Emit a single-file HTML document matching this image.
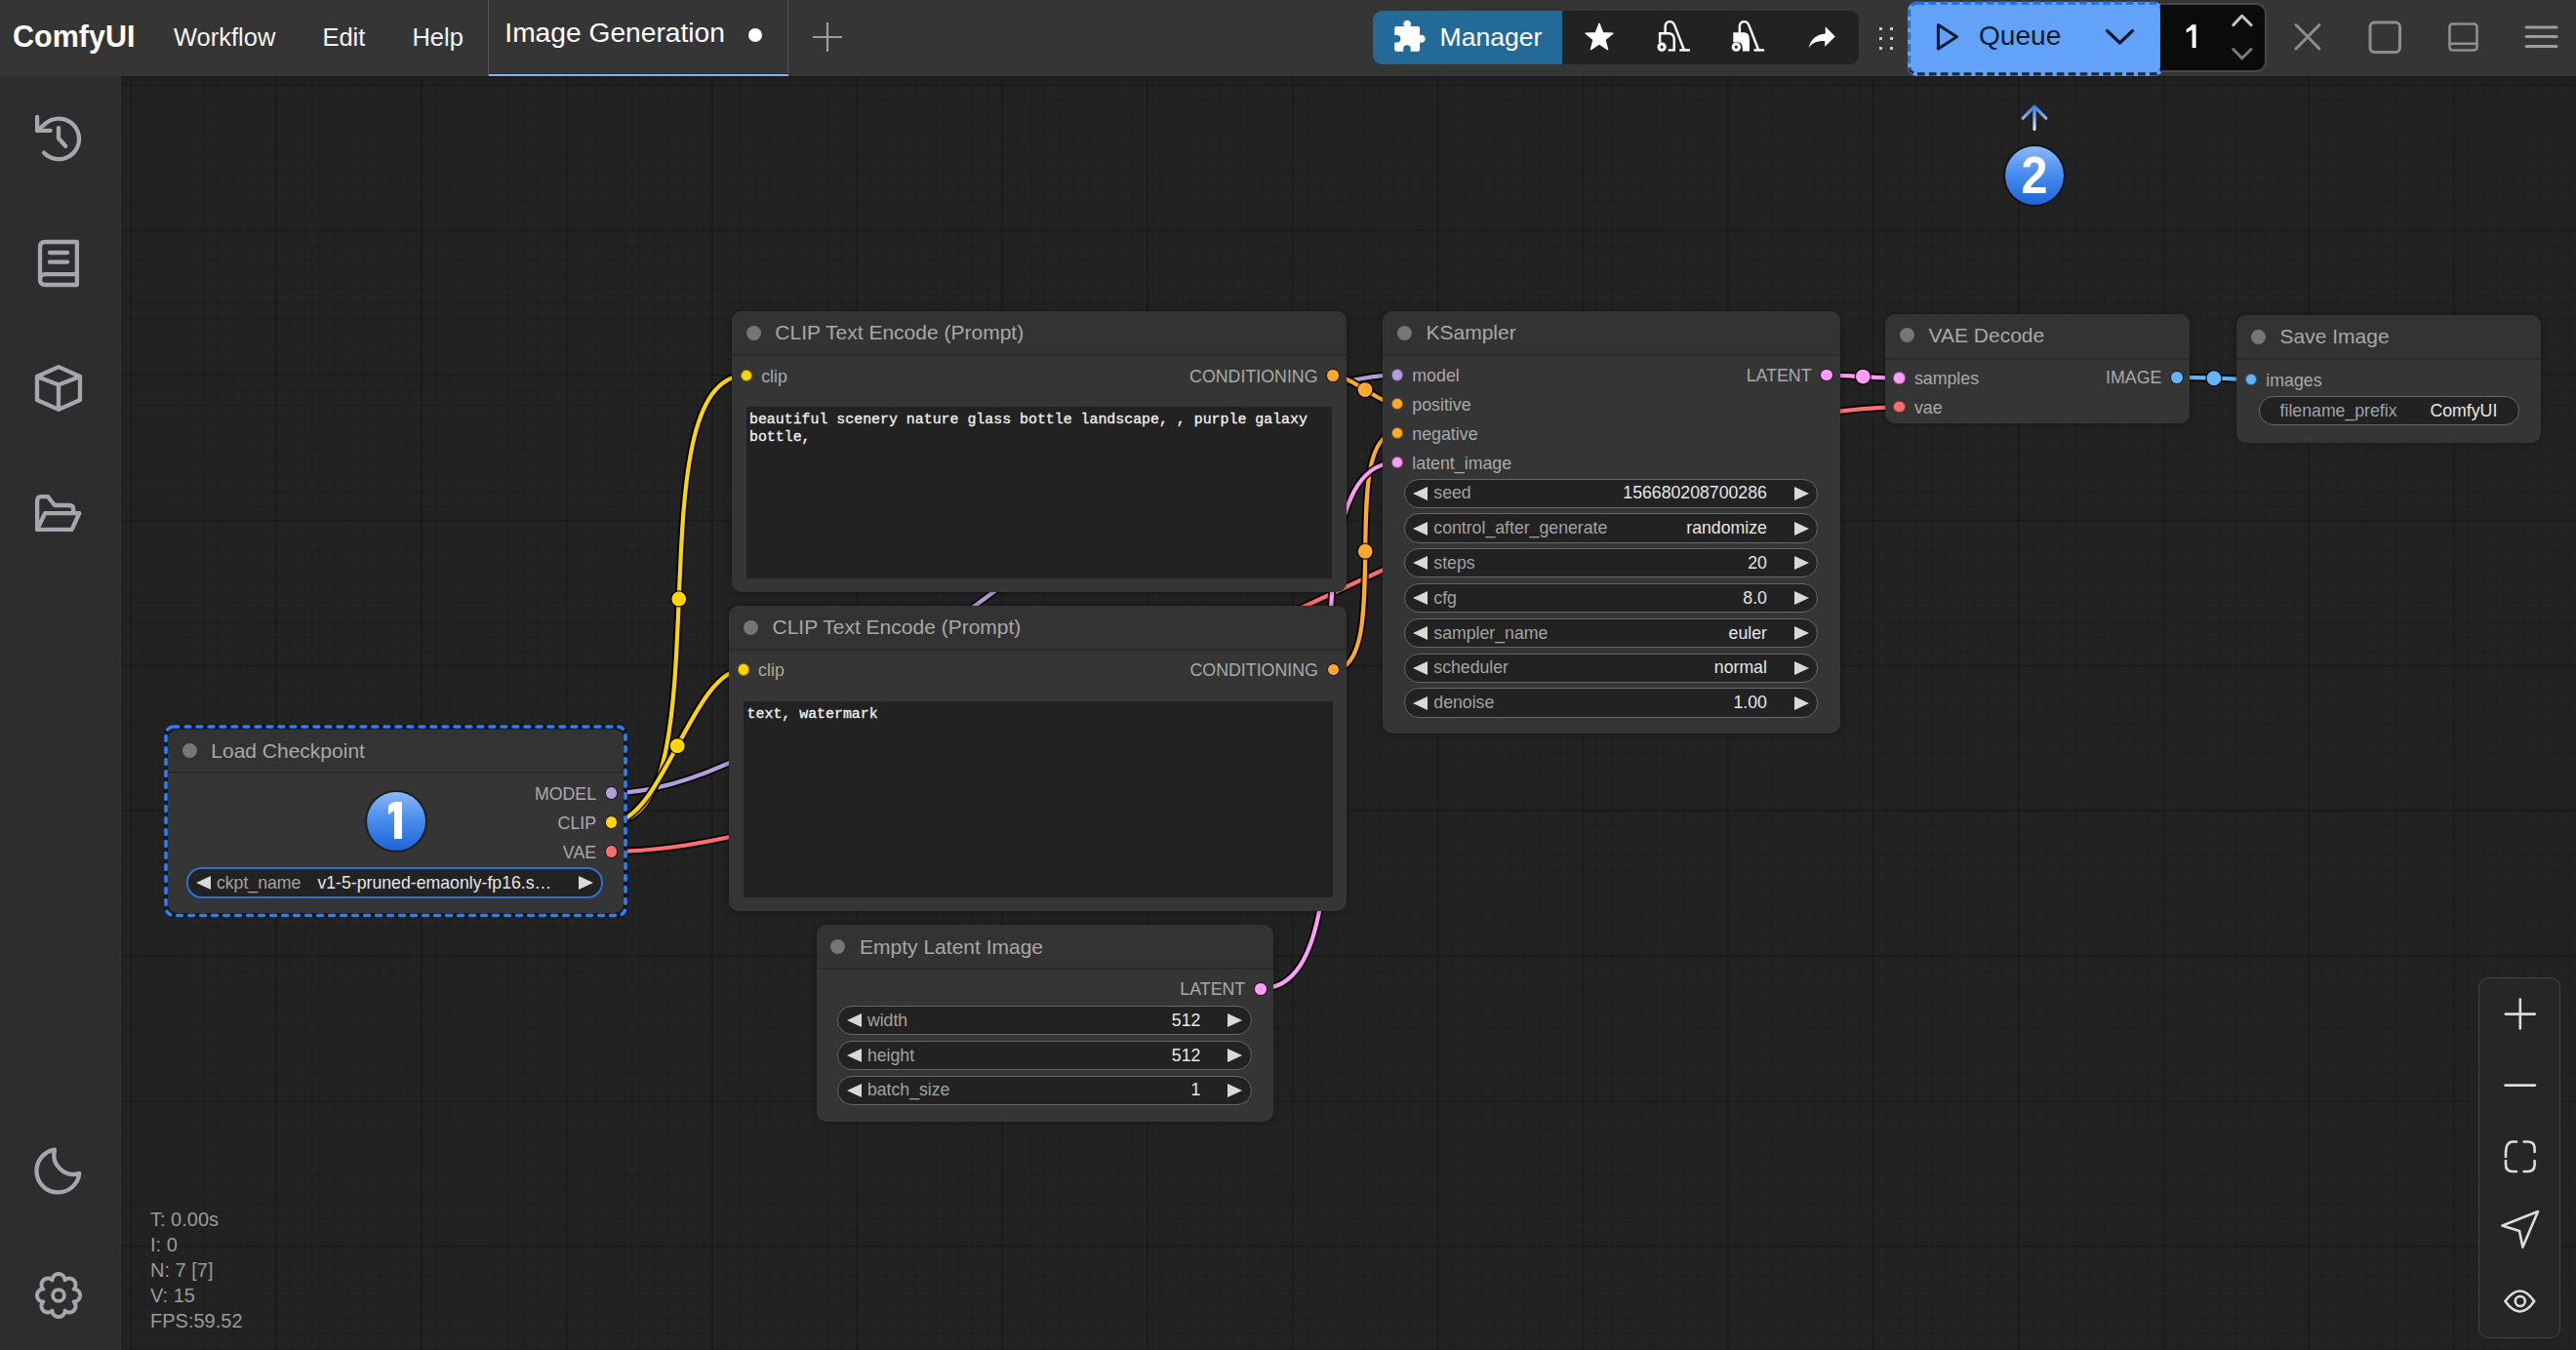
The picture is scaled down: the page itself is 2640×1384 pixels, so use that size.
<!DOCTYPE html><html><head><meta charset="utf-8"><style>
*{margin:0;padding:0;box-sizing:border-box}
html,body{width:2640px;height:1384px;overflow:hidden;background:#222;font-family:"Liberation Sans",sans-serif}
.t{position:absolute;white-space:nowrap;line-height:1}
.a{position:absolute}
#canvas{position:absolute;left:0;top:0;width:2640px;height:1384px;background-color:#222;
background-image:
linear-gradient(90deg,rgba(0,0,0,.16) 2px,transparent 2px),
linear-gradient(0deg,rgba(0,0,0,.16) 2px,transparent 2px),
linear-gradient(90deg,rgba(0,0,0,.09) 1px,transparent 1px),
linear-gradient(0deg,rgba(0,0,0,.09) 1px,transparent 1px);
background-size:148.8px 148.8px,148.8px 148.8px,14.88px 14.88px,14.88px 14.88px;
background-position:133.4px 88.1px,133.4px 88.1px,133.9px 88.6px,133.9px 88.6px}
.node{position:absolute;background:#353535;border-radius:10px;box-shadow:0 0 6px rgba(0,0,0,.35)}
.ntitle{position:absolute;left:0;top:0;right:0;background:#333;border-radius:10px 10px 0 0;border-bottom:2px solid #2b2b2b}
.ndot{position:absolute;width:15px;height:15px;border-radius:50%;background:#767676}
.slot{position:absolute;width:12px;height:12px;border-radius:50%}
.wid{position:absolute;background:#222;border:1.6px solid #676767;border-radius:16px}
.ta{position:absolute;background:#222}
.mono{-webkit-text-stroke:0.25px #f2f2f2}

</style></head><body>
<div id="canvas"></div>
<svg class="a" style="left:0;top:0" width="2640" height="1384" viewBox="0 0 2640 1384">
<path d="M626.60,813.00 C854.66,813.00 1203.94,384.60 1432.00,384.60" fill="none" stroke="rgba(0,0,0,.85)" stroke-width="8"/>
<path d="M626.60,813.00 C854.66,813.00 1203.94,384.60 1432.00,384.60" fill="none" stroke="#B39DDB" stroke-width="4.2"/>
<path d="M626.60,843.00 C746.25,843.00 645.25,384.80 764.90,384.80" fill="none" stroke="rgba(0,0,0,.85)" stroke-width="8"/>
<path d="M626.60,843.00 C746.25,843.00 645.25,384.80 764.90,384.80" fill="none" stroke="#FFD500" stroke-width="4.2"/>
<path d="M626.60,843.00 C678.32,843.00 710.08,686.40 761.80,686.40" fill="none" stroke="rgba(0,0,0,.85)" stroke-width="8"/>
<path d="M626.60,843.00 C678.32,843.00 710.08,686.40 761.80,686.40" fill="none" stroke="#FFD500" stroke-width="4.2"/>
<path d="M626.60,873.00 C975.71,873.00 1597.49,417.30 1946.60,417.30" fill="none" stroke="rgba(0,0,0,.85)" stroke-width="8"/>
<path d="M626.60,873.00 C975.71,873.00 1597.49,417.30 1946.60,417.30" fill="none" stroke="#FF6E6E" stroke-width="4.2"/>
<path d="M1366.00,384.80 C1384.07,384.80 1413.93,414.30 1432.00,414.30" fill="none" stroke="rgba(0,0,0,.85)" stroke-width="8"/>
<path d="M1366.00,384.80 C1384.07,384.80 1413.93,414.30 1432.00,414.30" fill="none" stroke="#FFA931" stroke-width="4.2"/>
<path d="M1366.40,686.40 C1429.18,686.40 1369.22,444.00 1432.00,444.00" fill="none" stroke="rgba(0,0,0,.85)" stroke-width="8"/>
<path d="M1366.40,686.40 C1429.18,686.40 1369.22,444.00 1432.00,444.00" fill="none" stroke="#FFA931" stroke-width="4.2"/>
<path d="M1291.70,1013.70 C1431.11,1013.70 1292.59,474.00 1432.00,474.00" fill="none" stroke="rgba(0,0,0,.85)" stroke-width="8"/>
<path d="M1291.70,1013.70 C1431.11,1013.70 1292.59,474.00 1432.00,474.00" fill="none" stroke="#FF9CF9" stroke-width="4.2"/>
<path d="M1872.00,384.60 C1890.67,384.60 1927.93,387.60 1946.60,387.60" fill="none" stroke="rgba(0,0,0,.85)" stroke-width="8"/>
<path d="M1872.00,384.60 C1890.67,384.60 1927.93,387.60 1946.60,387.60" fill="none" stroke="#FF9CF9" stroke-width="4.2"/>
<path d="M2230.90,386.70 C2249.93,386.70 2287.97,388.80 2307.00,388.80" fill="none" stroke="rgba(0,0,0,.85)" stroke-width="8"/>
<path d="M2230.90,386.70 C2249.93,386.70 2287.97,388.80 2307.00,388.80" fill="none" stroke="#64B5F6" stroke-width="4.2"/>
<circle cx="1029.30" cy="598.80" r="8.6" fill="rgba(0,0,0,.85)"/>
<circle cx="1029.30" cy="598.80" r="7.4" fill="#B39DDB"/>
<circle cx="695.75" cy="613.90" r="8.6" fill="rgba(0,0,0,.85)"/>
<circle cx="695.75" cy="613.90" r="7.4" fill="#FFD500"/>
<circle cx="694.20" cy="764.70" r="8.6" fill="rgba(0,0,0,.85)"/>
<circle cx="694.20" cy="764.70" r="7.4" fill="#FFD500"/>
<circle cx="1286.60" cy="645.15" r="8.6" fill="rgba(0,0,0,.85)"/>
<circle cx="1286.60" cy="645.15" r="7.4" fill="#FF6E6E"/>
<circle cx="1399.00" cy="399.55" r="8.6" fill="rgba(0,0,0,.85)"/>
<circle cx="1399.00" cy="399.55" r="7.4" fill="#FFA931"/>
<circle cx="1399.20" cy="565.20" r="8.6" fill="rgba(0,0,0,.85)"/>
<circle cx="1399.20" cy="565.20" r="7.4" fill="#FFA931"/>
<circle cx="1361.85" cy="743.85" r="8.6" fill="rgba(0,0,0,.85)"/>
<circle cx="1361.85" cy="743.85" r="7.4" fill="#FF9CF9"/>
<circle cx="1909.30" cy="386.10" r="8.6" fill="rgba(0,0,0,.85)"/>
<circle cx="1909.30" cy="386.10" r="7.4" fill="#FF9CF9"/>
<circle cx="2268.95" cy="387.75" r="8.6" fill="rgba(0,0,0,.85)"/>
<circle cx="2268.95" cy="387.75" r="7.4" fill="#64B5F6"/>
</svg>
<div class="node" style="left:172px;top:747.5px;width:467.00px;height:188.50px"><div class="ntitle" style="height:45.8px"></div></div>
<div class="ndot" style="left:186.50px;top:762.00px"></div>
<div class="t" style="left:216.30px;top:758.72px;font-size:21px;color:#a8a8a8;font-weight:normal;font-family:'Liberation Sans', sans-serif;">Load Checkpoint</div>
<div class="slot" style="left:619.70px;top:806.10px;width:13.8px;height:13.8px;background:#B39DDB;border:1.8px solid #140c14;"></div>
<div class="t" style="left:-888.90px;width:1500px;text-align:right;top:805.73px;font-size:17.8px;color:#a9a9a9;font-weight:normal;font-family:'Liberation Sans', sans-serif;">MODEL</div>
<div class="slot" style="left:619.70px;top:836.10px;width:13.8px;height:13.8px;background:#FFD500;border:1.8px solid #140c14;"></div>
<div class="t" style="left:-888.90px;width:1500px;text-align:right;top:835.73px;font-size:17.8px;color:#a9a9a9;font-weight:normal;font-family:'Liberation Sans', sans-serif;">CLIP</div>
<div class="slot" style="left:619.70px;top:866.10px;width:13.8px;height:13.8px;background:#FF6E6E;border:1.8px solid #140c14;"></div>
<div class="t" style="left:-888.90px;width:1500px;text-align:right;top:865.73px;font-size:17.8px;color:#a9a9a9;font-weight:normal;font-family:'Liberation Sans', sans-serif;">VAE</div>
<div class="wid" style="left:191.40px;top:889.20px;width:426.30px;height:31.4px;border-radius:15.7px;border-color:#2f6fcf;border-width:2px;"></div>
<svg class="a" style="left:200.70px;top:897.90px" width="15" height="14"><path d="M0,7.0 L15,0 L15,14 Z" fill="#d9d9d9"/></svg>
<svg class="a" style="left:593.40px;top:897.90px" width="15" height="14"><path d="M0,0 L15,7.0 L0,14 Z" fill="#d9d9d9"/></svg>
<div class="t" style="left:221.90px;top:896.52px;font-size:17.7px;color:#a2a2a2;font-weight:normal;font-family:'Liberation Sans', sans-serif;">ckpt_name</div>
<div class="t" style="left:-934.70px;width:1500px;text-align:right;top:896.52px;font-size:17.7px;color:#e6e6e6;font-weight:normal;font-family:'Liberation Sans', sans-serif;">v1-5-pruned-emaonly-fp16.s…</div>
<svg class="a" style="left:0;top:0;overflow:visible" width="1" height="1"><rect x="170" y="745" width="471" height="193.5" rx="8" fill="none" stroke="#0a1630" stroke-width="3.8"/><rect x="170" y="745" width="471" height="193.5" rx="8" fill="none" stroke="#2f80ed" stroke-width="3.6" stroke-dasharray="4.8 7.2" stroke-linecap="round"/></svg>
<div class="a" style="left:373.70px;top:809.80px;width:64px;height:64px;border-radius:50%;background:rgba(0,0,0,.45)"></div>
<div class="a" style="left:375.70px;top:811.80px;width:60px;height:60px;border-radius:50%;background:linear-gradient(180deg,#8cb8f7 0%,#4a8ef0 45%,#1f63d8 100%)"></div>
<svg class="a" style="left:0;top:0;overflow:visible" width="1" height="1"><path fill="#fff" d="M404.00,822.00 H412.00 V860.00 H404.00 V831.00 L398.00,835.00 V827.00 Q398.50,825.00 400.50,824.00 Z"/></svg>
<div class="node" style="left:750px;top:319px;width:630.00px;height:288.00px"><div class="ntitle" style="height:45.8px"></div></div>
<div class="ndot" style="left:764.50px;top:333.50px"></div>
<div class="t" style="left:794.30px;top:330.22px;font-size:21px;color:#a8a8a8;font-weight:normal;font-family:'Liberation Sans', sans-serif;">CLIP Text Encode (Prompt)</div>
<div class="slot" style="left:758.70px;top:378.60px;width:12.4px;height:12.4px;background:#FFD500;border:1px solid rgba(0,0,0,.45);"></div>
<div class="t" style="left:780.20px;top:377.53px;font-size:17.8px;color:#a9a9a9;font-weight:normal;font-family:'Liberation Sans', sans-serif;">clip</div>
<div class="slot" style="left:1359.10px;top:377.90px;width:13.8px;height:13.8px;background:#FFA931;border:1.8px solid #140c14;"></div>
<div class="t" style="left:-149.50px;width:1500px;text-align:right;top:377.53px;font-size:17.8px;color:#a9a9a9;font-weight:normal;font-family:'Liberation Sans', sans-serif;">CONDITIONING</div>
<div class="ta" style="left:765px;top:417px;width:599.6px;height:176px"></div>
<div class="t" style="left:768.00px;top:422.59px;font-size:14.9px;color:#f2f2f2;font-weight:normal;font-family:'Liberation Mono', monospace;-webkit-text-stroke:0.3px #f2f2f2;">beautiful scenery nature glass bottle landscape, , purple galaxy</div>
<div class="t" style="left:768.00px;top:440.99px;font-size:14.9px;color:#f2f2f2;font-weight:normal;font-family:'Liberation Mono', monospace;-webkit-text-stroke:0.3px #f2f2f2;">bottle,</div>
<div class="node" style="left:747.2px;top:621px;width:633.30px;height:313.00px"><div class="ntitle" style="height:45.8px"></div></div>
<div class="ndot" style="left:761.70px;top:635.50px"></div>
<div class="t" style="left:791.50px;top:632.22px;font-size:21px;color:#a8a8a8;font-weight:normal;font-family:'Liberation Sans', sans-serif;">CLIP Text Encode (Prompt)</div>
<div class="slot" style="left:755.60px;top:680.20px;width:12.4px;height:12.4px;background:#FFD500;border:1px solid rgba(0,0,0,.45);"></div>
<div class="t" style="left:777.10px;top:679.13px;font-size:17.8px;color:#a9a9a9;font-weight:normal;font-family:'Liberation Sans', sans-serif;">clip</div>
<div class="slot" style="left:1359.50px;top:679.50px;width:13.8px;height:13.8px;background:#FFA931;border:1.8px solid #140c14;"></div>
<div class="t" style="left:-149.10px;width:1500px;text-align:right;top:679.13px;font-size:17.8px;color:#a9a9a9;font-weight:normal;font-family:'Liberation Sans', sans-serif;">CONDITIONING</div>
<div class="ta" style="left:761.8px;top:719px;width:604.2px;height:201px"></div>
<div class="t" style="left:765.60px;top:724.59px;font-size:14.9px;color:#f2f2f2;font-weight:normal;font-family:'Liberation Mono', monospace;-webkit-text-stroke:0.3px #f2f2f2;">text, watermark</div>
<div class="node" style="left:1417.2px;top:319px;width:468.50px;height:433.00px"><div class="ntitle" style="height:45.8px"></div></div>
<div class="ndot" style="left:1431.70px;top:333.50px"></div>
<div class="t" style="left:1461.50px;top:330.22px;font-size:21px;color:#a8a8a8;font-weight:normal;font-family:'Liberation Sans', sans-serif;">KSampler</div>
<div class="slot" style="left:1425.80px;top:378.40px;width:12.4px;height:12.4px;background:#B39DDB;border:1px solid rgba(0,0,0,.45);"></div>
<div class="t" style="left:1447.30px;top:377.33px;font-size:17.8px;color:#a9a9a9;font-weight:normal;font-family:'Liberation Sans', sans-serif;">model</div>
<div class="slot" style="left:1425.80px;top:408.10px;width:12.4px;height:12.4px;background:#FFA931;border:1px solid rgba(0,0,0,.45);"></div>
<div class="t" style="left:1447.30px;top:407.03px;font-size:17.8px;color:#a9a9a9;font-weight:normal;font-family:'Liberation Sans', sans-serif;">positive</div>
<div class="slot" style="left:1425.80px;top:437.80px;width:12.4px;height:12.4px;background:#FFA931;border:1px solid rgba(0,0,0,.45);"></div>
<div class="t" style="left:1447.30px;top:436.73px;font-size:17.8px;color:#a9a9a9;font-weight:normal;font-family:'Liberation Sans', sans-serif;">negative</div>
<div class="slot" style="left:1425.80px;top:467.60px;width:12.4px;height:12.4px;background:#FF9CF9;border:1px solid rgba(0,0,0,.45);"></div>
<div class="t" style="left:1447.30px;top:466.53px;font-size:17.8px;color:#a9a9a9;font-weight:normal;font-family:'Liberation Sans', sans-serif;">latent_image</div>
<div class="slot" style="left:1865.10px;top:377.70px;width:13.8px;height:13.8px;background:#FF9CF9;border:1.8px solid #140c14;"></div>
<div class="t" style="left:356.50px;width:1500px;text-align:right;top:377.33px;font-size:17.8px;color:#a9a9a9;font-weight:normal;font-family:'Liberation Sans', sans-serif;">LATENT</div>
<div class="wid" style="left:1438.80px;top:490.60px;width:424.50px;height:30.2px;border-radius:15.1px;"></div>
<svg class="a" style="left:1448.10px;top:498.70px" width="15" height="14"><path d="M0,7.0 L15,0 L15,14 Z" fill="#d9d9d9"/></svg>
<svg class="a" style="left:1839.00px;top:498.70px" width="15" height="14"><path d="M0,0 L15,7.0 L0,14 Z" fill="#d9d9d9"/></svg>
<div class="t" style="left:1469.30px;top:497.32px;font-size:17.7px;color:#a2a2a2;font-weight:normal;font-family:'Liberation Sans', sans-serif;">seed</div>
<div class="t" style="left:310.90px;width:1500px;text-align:right;top:497.32px;font-size:17.7px;color:#e6e6e6;font-weight:normal;font-family:'Liberation Sans', sans-serif;">156680208700286</div>
<div class="wid" style="left:1438.80px;top:526.40px;width:424.50px;height:30.2px;border-radius:15.1px;"></div>
<svg class="a" style="left:1448.10px;top:534.50px" width="15" height="14"><path d="M0,7.0 L15,0 L15,14 Z" fill="#d9d9d9"/></svg>
<svg class="a" style="left:1839.00px;top:534.50px" width="15" height="14"><path d="M0,0 L15,7.0 L0,14 Z" fill="#d9d9d9"/></svg>
<div class="t" style="left:1469.30px;top:533.12px;font-size:17.7px;color:#a2a2a2;font-weight:normal;font-family:'Liberation Sans', sans-serif;">control_after_generate</div>
<div class="t" style="left:310.90px;width:1500px;text-align:right;top:533.12px;font-size:17.7px;color:#e6e6e6;font-weight:normal;font-family:'Liberation Sans', sans-serif;">randomize</div>
<div class="wid" style="left:1438.80px;top:562.20px;width:424.50px;height:30.2px;border-radius:15.1px;"></div>
<svg class="a" style="left:1448.10px;top:570.30px" width="15" height="14"><path d="M0,7.0 L15,0 L15,14 Z" fill="#d9d9d9"/></svg>
<svg class="a" style="left:1839.00px;top:570.30px" width="15" height="14"><path d="M0,0 L15,7.0 L0,14 Z" fill="#d9d9d9"/></svg>
<div class="t" style="left:1469.30px;top:568.92px;font-size:17.7px;color:#a2a2a2;font-weight:normal;font-family:'Liberation Sans', sans-serif;">steps</div>
<div class="t" style="left:310.90px;width:1500px;text-align:right;top:568.92px;font-size:17.7px;color:#e6e6e6;font-weight:normal;font-family:'Liberation Sans', sans-serif;">20</div>
<div class="wid" style="left:1438.80px;top:598.00px;width:424.50px;height:30.2px;border-radius:15.1px;"></div>
<svg class="a" style="left:1448.10px;top:606.10px" width="15" height="14"><path d="M0,7.0 L15,0 L15,14 Z" fill="#d9d9d9"/></svg>
<svg class="a" style="left:1839.00px;top:606.10px" width="15" height="14"><path d="M0,0 L15,7.0 L0,14 Z" fill="#d9d9d9"/></svg>
<div class="t" style="left:1469.30px;top:604.72px;font-size:17.7px;color:#a2a2a2;font-weight:normal;font-family:'Liberation Sans', sans-serif;">cfg</div>
<div class="t" style="left:310.90px;width:1500px;text-align:right;top:604.72px;font-size:17.7px;color:#e6e6e6;font-weight:normal;font-family:'Liberation Sans', sans-serif;">8.0</div>
<div class="wid" style="left:1438.80px;top:633.80px;width:424.50px;height:30.2px;border-radius:15.1px;"></div>
<svg class="a" style="left:1448.10px;top:641.90px" width="15" height="14"><path d="M0,7.0 L15,0 L15,14 Z" fill="#d9d9d9"/></svg>
<svg class="a" style="left:1839.00px;top:641.90px" width="15" height="14"><path d="M0,0 L15,7.0 L0,14 Z" fill="#d9d9d9"/></svg>
<div class="t" style="left:1469.30px;top:640.52px;font-size:17.7px;color:#a2a2a2;font-weight:normal;font-family:'Liberation Sans', sans-serif;">sampler_name</div>
<div class="t" style="left:310.90px;width:1500px;text-align:right;top:640.52px;font-size:17.7px;color:#e6e6e6;font-weight:normal;font-family:'Liberation Sans', sans-serif;">euler</div>
<div class="wid" style="left:1438.80px;top:669.60px;width:424.50px;height:30.2px;border-radius:15.1px;"></div>
<svg class="a" style="left:1448.10px;top:677.70px" width="15" height="14"><path d="M0,7.0 L15,0 L15,14 Z" fill="#d9d9d9"/></svg>
<svg class="a" style="left:1839.00px;top:677.70px" width="15" height="14"><path d="M0,0 L15,7.0 L0,14 Z" fill="#d9d9d9"/></svg>
<div class="t" style="left:1469.30px;top:676.32px;font-size:17.7px;color:#a2a2a2;font-weight:normal;font-family:'Liberation Sans', sans-serif;">scheduler</div>
<div class="t" style="left:310.90px;width:1500px;text-align:right;top:676.32px;font-size:17.7px;color:#e6e6e6;font-weight:normal;font-family:'Liberation Sans', sans-serif;">normal</div>
<div class="wid" style="left:1438.80px;top:705.40px;width:424.50px;height:30.2px;border-radius:15.1px;"></div>
<svg class="a" style="left:1448.10px;top:713.50px" width="15" height="14"><path d="M0,7.0 L15,0 L15,14 Z" fill="#d9d9d9"/></svg>
<svg class="a" style="left:1839.00px;top:713.50px" width="15" height="14"><path d="M0,0 L15,7.0 L0,14 Z" fill="#d9d9d9"/></svg>
<div class="t" style="left:1469.30px;top:712.12px;font-size:17.7px;color:#a2a2a2;font-weight:normal;font-family:'Liberation Sans', sans-serif;">denoise</div>
<div class="t" style="left:310.90px;width:1500px;text-align:right;top:712.12px;font-size:17.7px;color:#e6e6e6;font-weight:normal;font-family:'Liberation Sans', sans-serif;">1.00</div>
<div class="node" style="left:1932.2px;top:321.7px;width:311.80px;height:112.50px"><div class="ntitle" style="height:47.2px"></div></div>
<div class="ndot" style="left:1946.70px;top:336.20px"></div>
<div class="t" style="left:1976.50px;top:332.92px;font-size:21px;color:#a8a8a8;font-weight:normal;font-family:'Liberation Sans', sans-serif;">VAE Decode</div>
<div class="slot" style="left:1940.40px;top:381.40px;width:12.4px;height:12.4px;background:#FF9CF9;border:1px solid rgba(0,0,0,.45);"></div>
<div class="t" style="left:1961.90px;top:380.33px;font-size:17.8px;color:#a9a9a9;font-weight:normal;font-family:'Liberation Sans', sans-serif;">samples</div>
<div class="slot" style="left:1940.40px;top:411.10px;width:12.4px;height:12.4px;background:#FF6E6E;border:1px solid rgba(0,0,0,.45);"></div>
<div class="t" style="left:1961.90px;top:410.03px;font-size:17.8px;color:#a9a9a9;font-weight:normal;font-family:'Liberation Sans', sans-serif;">vae</div>
<div class="slot" style="left:2224.00px;top:379.80px;width:13.8px;height:13.8px;background:#64B5F6;border:1.8px solid #140c14;"></div>
<div class="t" style="left:715.40px;width:1500px;text-align:right;top:379.43px;font-size:17.8px;color:#a9a9a9;font-weight:normal;font-family:'Liberation Sans', sans-serif;">IMAGE</div>
<div class="node" style="left:2292.2px;top:323px;width:312.20px;height:130.50px"><div class="ntitle" style="height:45.8px"></div></div>
<div class="ndot" style="left:2306.70px;top:337.50px"></div>
<div class="t" style="left:2336.50px;top:334.22px;font-size:21px;color:#a8a8a8;font-weight:normal;font-family:'Liberation Sans', sans-serif;">Save Image</div>
<div class="slot" style="left:2300.80px;top:382.60px;width:12.4px;height:12.4px;background:#64B5F6;border:1px solid rgba(0,0,0,.45);"></div>
<div class="t" style="left:2322.30px;top:381.53px;font-size:17.8px;color:#a9a9a9;font-weight:normal;font-family:'Liberation Sans', sans-serif;">images</div>
<div class="wid" style="left:2314.60px;top:406.20px;width:267.70px;height:30.2px;border-radius:15.1px;"></div>
<div class="t" style="left:2336.60px;top:412.92px;font-size:17.7px;color:#a2a2a2;font-weight:normal;font-family:'Liberation Sans', sans-serif;">filename_prefix</div>
<div class="t" style="left:1059.30px;width:1500px;text-align:right;top:412.92px;font-size:17.7px;color:#e6e6e6;font-weight:normal;font-family:'Liberation Sans', sans-serif;">ComfyUI</div>
<div class="node" style="left:836.8px;top:948.3px;width:468.20px;height:201.70px"><div class="ntitle" style="height:45.8px"></div></div>
<div class="ndot" style="left:851.30px;top:962.80px"></div>
<div class="t" style="left:881.10px;top:959.52px;font-size:21px;color:#a8a8a8;font-weight:normal;font-family:'Liberation Sans', sans-serif;">Empty Latent Image</div>
<div class="slot" style="left:1284.80px;top:1006.80px;width:13.8px;height:13.8px;background:#FF9CF9;border:1.8px solid #140c14;"></div>
<div class="t" style="left:-223.80px;width:1500px;text-align:right;top:1006.43px;font-size:17.8px;color:#a9a9a9;font-weight:normal;font-family:'Liberation Sans', sans-serif;">LATENT</div>
<div class="wid" style="left:858.40px;top:1031.10px;width:424.30px;height:30.2px;border-radius:15.1px;"></div>
<svg class="a" style="left:867.70px;top:1039.20px" width="15" height="14"><path d="M0,7.0 L15,0 L15,14 Z" fill="#d9d9d9"/></svg>
<svg class="a" style="left:1258.40px;top:1039.20px" width="15" height="14"><path d="M0,0 L15,7.0 L0,14 Z" fill="#d9d9d9"/></svg>
<div class="t" style="left:888.90px;top:1037.82px;font-size:17.7px;color:#a2a2a2;font-weight:normal;font-family:'Liberation Sans', sans-serif;">width</div>
<div class="t" style="left:-269.70px;width:1500px;text-align:right;top:1037.82px;font-size:17.7px;color:#e6e6e6;font-weight:normal;font-family:'Liberation Sans', sans-serif;">512</div>
<div class="wid" style="left:858.40px;top:1066.90px;width:424.30px;height:30.2px;border-radius:15.1px;"></div>
<svg class="a" style="left:867.70px;top:1075.00px" width="15" height="14"><path d="M0,7.0 L15,0 L15,14 Z" fill="#d9d9d9"/></svg>
<svg class="a" style="left:1258.40px;top:1075.00px" width="15" height="14"><path d="M0,0 L15,7.0 L0,14 Z" fill="#d9d9d9"/></svg>
<div class="t" style="left:888.90px;top:1073.62px;font-size:17.7px;color:#a2a2a2;font-weight:normal;font-family:'Liberation Sans', sans-serif;">height</div>
<div class="t" style="left:-269.70px;width:1500px;text-align:right;top:1073.62px;font-size:17.7px;color:#e6e6e6;font-weight:normal;font-family:'Liberation Sans', sans-serif;">512</div>
<div class="wid" style="left:858.40px;top:1102.70px;width:424.30px;height:30.2px;border-radius:15.1px;"></div>
<svg class="a" style="left:867.70px;top:1110.80px" width="15" height="14"><path d="M0,7.0 L15,0 L15,14 Z" fill="#d9d9d9"/></svg>
<svg class="a" style="left:1258.40px;top:1110.80px" width="15" height="14"><path d="M0,0 L15,7.0 L0,14 Z" fill="#d9d9d9"/></svg>
<div class="t" style="left:888.90px;top:1109.42px;font-size:17.7px;color:#a2a2a2;font-weight:normal;font-family:'Liberation Sans', sans-serif;">batch_size</div>
<div class="t" style="left:-269.70px;width:1500px;text-align:right;top:1109.42px;font-size:17.7px;color:#e6e6e6;font-weight:normal;font-family:'Liberation Sans', sans-serif;">1</div>
<div class="a" style="left:0;top:78px;width:124px;height:1306px;background:#2d2d2d;border-right:2px solid #313131"></div>
<svg class="a" style="left:0;top:0" width="124" height="1384" fill="none" stroke="#a6a6ae" stroke-width="4.3" stroke-linecap="round" stroke-linejoin="round">
<path d="M45,156.5 A20.8,20.8 0 1 0 46.1,127.1 L38.1,133.8"/><path d="M38.1,119.9 V133.8 H51.7"/><path d="M60,131.1 V141.8 L67.2,149.8"/>
<path d="M78.9,248 V292 H46.5 Q41,292 41,286.5 V253.5 Q41,248 46.5,248 Z"/><path d="M78.9,281.1 H46.5 Q41,281.1 41,286.5"/><path d="M50.9,259 H69.1 M50.9,268.6 H69.1"/>
<path d="M60,376.1 L82,386 V410 L60,419.9 L38,410 V386 Z M38,386 L60,394.5 L82,386 M60,394.5 V419.9"/>
<path d="M38.1,542.8 V513.4 Q38.1,509.2 42.3,509.2 H49.1 L56,518 H71 Q75.2,518 75.2,522.2 V526.2"/><path d="M38.1,542.8 L46.1,526.2 H81.3 L73.6,542.8 Z"/>
<path d="M56,1178.7 A22,22 0 1 0 81.3,1202.9 A20,20 0 0 1 56,1178.7 Z"/>
<path d="M82.00,1328.00 L82.00,1328.19 L81.99,1328.38 L81.97,1328.58 L81.95,1328.77 L81.93,1328.96 L81.90,1329.15 L81.86,1329.34 L81.82,1329.53 L81.77,1329.71 L81.72,1329.90 L81.66,1330.09 L81.59,1330.27 L81.52,1330.45 L81.44,1330.63 L81.36,1330.81 L81.27,1330.99 L81.18,1331.16 L81.08,1331.34 L80.97,1331.51 L80.86,1331.68 L80.74,1331.84 L80.62,1332.01 L80.49,1332.17 L80.35,1332.33 L80.21,1332.48 L80.06,1332.63 L79.91,1332.78 L79.74,1332.92 L79.58,1333.06 L79.40,1333.20 L79.22,1333.33 L79.03,1333.46 L78.84,1333.58 L78.63,1333.70 L78.42,1333.81 L78.20,1333.91 L77.97,1334.01 L77.73,1334.11 L77.48,1334.19 L77.22,1334.27 L76.95,1334.34 L76.66,1334.40 L76.36,1334.44 L76.03,1334.48 L75.69,1334.50 L75.92,1334.76 L76.12,1335.01 L76.30,1335.26 L76.46,1335.50 L76.61,1335.75 L76.74,1335.98 L76.85,1336.22 L76.96,1336.45 L77.05,1336.69 L77.13,1336.92 L77.20,1337.15 L77.26,1337.37 L77.32,1337.60 L77.36,1337.82 L77.40,1338.04 L77.42,1338.26 L77.44,1338.48 L77.45,1338.70 L77.46,1338.91 L77.46,1339.12 L77.45,1339.33 L77.43,1339.54 L77.41,1339.74 L77.38,1339.95 L77.35,1340.15 L77.31,1340.35 L77.26,1340.54 L77.21,1340.74 L77.16,1340.93 L77.09,1341.12 L77.02,1341.30 L76.95,1341.48 L76.87,1341.66 L76.79,1341.84 L76.70,1342.01 L76.61,1342.18 L76.51,1342.35 L76.40,1342.51 L76.30,1342.67 L76.18,1342.83 L76.07,1342.98 L75.95,1343.13 L75.82,1343.28 L75.69,1343.42 L75.56,1343.56 L75.42,1343.69 L75.28,1343.82 L75.13,1343.95 L74.98,1344.07 L74.83,1344.18 L74.67,1344.30 L74.51,1344.40 L74.35,1344.51 L74.18,1344.61 L74.01,1344.70 L73.84,1344.79 L73.66,1344.87 L73.48,1344.95 L73.30,1345.02 L73.12,1345.09 L72.93,1345.16 L72.74,1345.21 L72.54,1345.26 L72.35,1345.31 L72.15,1345.35 L71.95,1345.38 L71.74,1345.41 L71.54,1345.43 L71.33,1345.45 L71.12,1345.46 L70.91,1345.46 L70.70,1345.45 L70.48,1345.44 L70.26,1345.42 L70.04,1345.40 L69.82,1345.36 L69.60,1345.32 L69.37,1345.26 L69.15,1345.20 L68.92,1345.13 L68.69,1345.05 L68.45,1344.96 L68.22,1344.85 L67.98,1344.74 L67.75,1344.61 L67.50,1344.46 L67.26,1344.30 L67.01,1344.12 L66.76,1343.92 L66.50,1343.69 L66.48,1344.03 L66.44,1344.36 L66.40,1344.66 L66.34,1344.95 L66.27,1345.22 L66.19,1345.48 L66.11,1345.73 L66.01,1345.97 L65.91,1346.20 L65.81,1346.42 L65.70,1346.63 L65.58,1346.84 L65.46,1347.03 L65.33,1347.22 L65.20,1347.40 L65.06,1347.58 L64.92,1347.74 L64.78,1347.91 L64.63,1348.06 L64.48,1348.21 L64.33,1348.35 L64.17,1348.49 L64.01,1348.62 L63.84,1348.74 L63.68,1348.86 L63.51,1348.97 L63.34,1349.08 L63.16,1349.18 L62.99,1349.27 L62.81,1349.36 L62.63,1349.44 L62.45,1349.52 L62.27,1349.59 L62.09,1349.66 L61.90,1349.72 L61.71,1349.77 L61.53,1349.82 L61.34,1349.86 L61.15,1349.90 L60.96,1349.93 L60.77,1349.95 L60.58,1349.97 L60.38,1349.99 L60.19,1350.00 L60.00,1350.00 L59.81,1350.00 L59.62,1349.99 L59.42,1349.97 L59.23,1349.95 L59.04,1349.93 L58.85,1349.90 L58.66,1349.86 L58.47,1349.82 L58.29,1349.77 L58.10,1349.72 L57.91,1349.66 L57.73,1349.59 L57.55,1349.52 L57.37,1349.44 L57.19,1349.36 L57.01,1349.27 L56.84,1349.18 L56.66,1349.08 L56.49,1348.97 L56.32,1348.86 L56.16,1348.74 L55.99,1348.62 L55.83,1348.49 L55.67,1348.35 L55.52,1348.21 L55.37,1348.06 L55.22,1347.91 L55.08,1347.74 L54.94,1347.58 L54.80,1347.40 L54.67,1347.22 L54.54,1347.03 L54.42,1346.84 L54.30,1346.63 L54.19,1346.42 L54.09,1346.20 L53.99,1345.97 L53.89,1345.73 L53.81,1345.48 L53.73,1345.22 L53.66,1344.95 L53.60,1344.66 L53.56,1344.36 L53.52,1344.03 L53.50,1343.69 L53.24,1343.92 L52.99,1344.12 L52.74,1344.30 L52.50,1344.46 L52.25,1344.61 L52.02,1344.74 L51.78,1344.85 L51.55,1344.96 L51.31,1345.05 L51.08,1345.13 L50.85,1345.20 L50.63,1345.26 L50.40,1345.32 L50.18,1345.36 L49.96,1345.40 L49.74,1345.42 L49.52,1345.44 L49.30,1345.45 L49.09,1345.46 L48.88,1345.46 L48.67,1345.45 L48.46,1345.43 L48.26,1345.41 L48.05,1345.38 L47.85,1345.35 L47.65,1345.31 L47.46,1345.26 L47.26,1345.21 L47.07,1345.16 L46.88,1345.09 L46.70,1345.02 L46.52,1344.95 L46.34,1344.87 L46.16,1344.79 L45.99,1344.70 L45.82,1344.61 L45.65,1344.51 L45.49,1344.40 L45.33,1344.30 L45.17,1344.18 L45.02,1344.07 L44.87,1343.95 L44.72,1343.82 L44.58,1343.69 L44.44,1343.56 L44.31,1343.42 L44.18,1343.28 L44.05,1343.13 L43.93,1342.98 L43.82,1342.83 L43.70,1342.67 L43.60,1342.51 L43.49,1342.35 L43.39,1342.18 L43.30,1342.01 L43.21,1341.84 L43.13,1341.66 L43.05,1341.48 L42.98,1341.30 L42.91,1341.12 L42.84,1340.93 L42.79,1340.74 L42.74,1340.54 L42.69,1340.35 L42.65,1340.15 L42.62,1339.95 L42.59,1339.74 L42.57,1339.54 L42.55,1339.33 L42.54,1339.12 L42.54,1338.91 L42.55,1338.70 L42.56,1338.48 L42.58,1338.26 L42.60,1338.04 L42.64,1337.82 L42.68,1337.60 L42.74,1337.37 L42.80,1337.15 L42.87,1336.92 L42.95,1336.69 L43.04,1336.45 L43.15,1336.22 L43.26,1335.98 L43.39,1335.75 L43.54,1335.50 L43.70,1335.26 L43.88,1335.01 L44.08,1334.76 L44.31,1334.50 L43.97,1334.48 L43.64,1334.44 L43.34,1334.40 L43.05,1334.34 L42.78,1334.27 L42.52,1334.19 L42.27,1334.11 L42.03,1334.01 L41.80,1333.91 L41.58,1333.81 L41.37,1333.70 L41.16,1333.58 L40.97,1333.46 L40.78,1333.33 L40.60,1333.20 L40.42,1333.06 L40.26,1332.92 L40.09,1332.78 L39.94,1332.63 L39.79,1332.48 L39.65,1332.33 L39.51,1332.17 L39.38,1332.01 L39.26,1331.84 L39.14,1331.68 L39.03,1331.51 L38.92,1331.34 L38.82,1331.16 L38.73,1330.99 L38.64,1330.81 L38.56,1330.63 L38.48,1330.45 L38.41,1330.27 L38.34,1330.09 L38.28,1329.90 L38.23,1329.71 L38.18,1329.53 L38.14,1329.34 L38.10,1329.15 L38.07,1328.96 L38.05,1328.77 L38.03,1328.58 L38.01,1328.38 L38.00,1328.19 L38.00,1328.00 L38.00,1327.81 L38.01,1327.62 L38.03,1327.42 L38.05,1327.23 L38.07,1327.04 L38.10,1326.85 L38.14,1326.66 L38.18,1326.47 L38.23,1326.29 L38.28,1326.10 L38.34,1325.91 L38.41,1325.73 L38.48,1325.55 L38.56,1325.37 L38.64,1325.19 L38.73,1325.01 L38.82,1324.84 L38.92,1324.66 L39.03,1324.49 L39.14,1324.32 L39.26,1324.16 L39.38,1323.99 L39.51,1323.83 L39.65,1323.67 L39.79,1323.52 L39.94,1323.37 L40.09,1323.22 L40.26,1323.08 L40.42,1322.94 L40.60,1322.80 L40.78,1322.67 L40.97,1322.54 L41.16,1322.42 L41.37,1322.30 L41.58,1322.19 L41.80,1322.09 L42.03,1321.99 L42.27,1321.89 L42.52,1321.81 L42.78,1321.73 L43.05,1321.66 L43.34,1321.60 L43.64,1321.56 L43.97,1321.52 L44.31,1321.50 L44.08,1321.24 L43.88,1320.99 L43.70,1320.74 L43.54,1320.50 L43.39,1320.25 L43.26,1320.02 L43.15,1319.78 L43.04,1319.55 L42.95,1319.31 L42.87,1319.08 L42.80,1318.85 L42.74,1318.63 L42.68,1318.40 L42.64,1318.18 L42.60,1317.96 L42.58,1317.74 L42.56,1317.52 L42.55,1317.30 L42.54,1317.09 L42.54,1316.88 L42.55,1316.67 L42.57,1316.46 L42.59,1316.26 L42.62,1316.05 L42.65,1315.85 L42.69,1315.65 L42.74,1315.46 L42.79,1315.26 L42.84,1315.07 L42.91,1314.88 L42.98,1314.70 L43.05,1314.52 L43.13,1314.34 L43.21,1314.16 L43.30,1313.99 L43.39,1313.82 L43.49,1313.65 L43.60,1313.49 L43.70,1313.33 L43.82,1313.17 L43.93,1313.02 L44.05,1312.87 L44.18,1312.72 L44.31,1312.58 L44.44,1312.44 L44.58,1312.31 L44.72,1312.18 L44.87,1312.05 L45.02,1311.93 L45.17,1311.82 L45.33,1311.70 L45.49,1311.60 L45.65,1311.49 L45.82,1311.39 L45.99,1311.30 L46.16,1311.21 L46.34,1311.13 L46.52,1311.05 L46.70,1310.98 L46.88,1310.91 L47.07,1310.84 L47.26,1310.79 L47.46,1310.74 L47.65,1310.69 L47.85,1310.65 L48.05,1310.62 L48.26,1310.59 L48.46,1310.57 L48.67,1310.55 L48.88,1310.54 L49.09,1310.54 L49.30,1310.55 L49.52,1310.56 L49.74,1310.58 L49.96,1310.60 L50.18,1310.64 L50.40,1310.68 L50.63,1310.74 L50.85,1310.80 L51.08,1310.87 L51.31,1310.95 L51.55,1311.04 L51.78,1311.15 L52.02,1311.26 L52.25,1311.39 L52.50,1311.54 L52.74,1311.70 L52.99,1311.88 L53.24,1312.08 L53.50,1312.31 L53.52,1311.97 L53.56,1311.64 L53.60,1311.34 L53.66,1311.05 L53.73,1310.78 L53.81,1310.52 L53.89,1310.27 L53.99,1310.03 L54.09,1309.80 L54.19,1309.58 L54.30,1309.37 L54.42,1309.16 L54.54,1308.97 L54.67,1308.78 L54.80,1308.60 L54.94,1308.42 L55.08,1308.26 L55.22,1308.09 L55.37,1307.94 L55.52,1307.79 L55.67,1307.65 L55.83,1307.51 L55.99,1307.38 L56.16,1307.26 L56.32,1307.14 L56.49,1307.03 L56.66,1306.92 L56.84,1306.82 L57.01,1306.73 L57.19,1306.64 L57.37,1306.56 L57.55,1306.48 L57.73,1306.41 L57.91,1306.34 L58.10,1306.28 L58.29,1306.23 L58.47,1306.18 L58.66,1306.14 L58.85,1306.10 L59.04,1306.07 L59.23,1306.05 L59.42,1306.03 L59.62,1306.01 L59.81,1306.00 L60.00,1306.00 L60.19,1306.00 L60.38,1306.01 L60.58,1306.03 L60.77,1306.05 L60.96,1306.07 L61.15,1306.10 L61.34,1306.14 L61.53,1306.18 L61.71,1306.23 L61.90,1306.28 L62.09,1306.34 L62.27,1306.41 L62.45,1306.48 L62.63,1306.56 L62.81,1306.64 L62.99,1306.73 L63.16,1306.82 L63.34,1306.92 L63.51,1307.03 L63.68,1307.14 L63.84,1307.26 L64.01,1307.38 L64.17,1307.51 L64.33,1307.65 L64.48,1307.79 L64.63,1307.94 L64.78,1308.09 L64.92,1308.26 L65.06,1308.42 L65.20,1308.60 L65.33,1308.78 L65.46,1308.97 L65.58,1309.16 L65.70,1309.37 L65.81,1309.58 L65.91,1309.80 L66.01,1310.03 L66.11,1310.27 L66.19,1310.52 L66.27,1310.78 L66.34,1311.05 L66.40,1311.34 L66.44,1311.64 L66.48,1311.97 L66.50,1312.31 L66.76,1312.08 L67.01,1311.88 L67.26,1311.70 L67.50,1311.54 L67.75,1311.39 L67.98,1311.26 L68.22,1311.15 L68.45,1311.04 L68.69,1310.95 L68.92,1310.87 L69.15,1310.80 L69.37,1310.74 L69.60,1310.68 L69.82,1310.64 L70.04,1310.60 L70.26,1310.58 L70.48,1310.56 L70.70,1310.55 L70.91,1310.54 L71.12,1310.54 L71.33,1310.55 L71.54,1310.57 L71.74,1310.59 L71.95,1310.62 L72.15,1310.65 L72.35,1310.69 L72.54,1310.74 L72.74,1310.79 L72.93,1310.84 L73.12,1310.91 L73.30,1310.98 L73.48,1311.05 L73.66,1311.13 L73.84,1311.21 L74.01,1311.30 L74.18,1311.39 L74.35,1311.49 L74.51,1311.60 L74.67,1311.70 L74.83,1311.82 L74.98,1311.93 L75.13,1312.05 L75.28,1312.18 L75.42,1312.31 L75.56,1312.44 L75.69,1312.58 L75.82,1312.72 L75.95,1312.87 L76.07,1313.02 L76.18,1313.17 L76.30,1313.33 L76.40,1313.49 L76.51,1313.65 L76.61,1313.82 L76.70,1313.99 L76.79,1314.16 L76.87,1314.34 L76.95,1314.52 L77.02,1314.70 L77.09,1314.88 L77.16,1315.07 L77.21,1315.26 L77.26,1315.46 L77.31,1315.65 L77.35,1315.85 L77.38,1316.05 L77.41,1316.26 L77.43,1316.46 L77.45,1316.67 L77.46,1316.88 L77.46,1317.09 L77.45,1317.30 L77.44,1317.52 L77.42,1317.74 L77.40,1317.96 L77.36,1318.18 L77.32,1318.40 L77.26,1318.63 L77.20,1318.85 L77.13,1319.08 L77.05,1319.31 L76.96,1319.55 L76.85,1319.78 L76.74,1320.02 L76.61,1320.25 L76.46,1320.50 L76.30,1320.74 L76.12,1320.99 L75.92,1321.24 L75.69,1321.50 L76.03,1321.52 L76.36,1321.56 L76.66,1321.60 L76.95,1321.66 L77.22,1321.73 L77.48,1321.81 L77.73,1321.89 L77.97,1321.99 L78.20,1322.09 L78.42,1322.19 L78.63,1322.30 L78.84,1322.42 L79.03,1322.54 L79.22,1322.67 L79.40,1322.80 L79.58,1322.94 L79.74,1323.08 L79.91,1323.22 L80.06,1323.37 L80.21,1323.52 L80.35,1323.67 L80.49,1323.83 L80.62,1323.99 L80.74,1324.16 L80.86,1324.32 L80.97,1324.49 L81.08,1324.66 L81.18,1324.84 L81.27,1325.01 L81.36,1325.19 L81.44,1325.37 L81.52,1325.55 L81.59,1325.73 L81.66,1325.91 L81.72,1326.10 L81.77,1326.29 L81.82,1326.47 L81.86,1326.66 L81.90,1326.85 L81.93,1327.04 L81.95,1327.23 L81.97,1327.42 L81.99,1327.62 L82.00,1327.81 Z" stroke-width="4"/>
<circle cx="60" cy="1328" r="5.9" stroke-width="3.8"/>
</svg>
<div class="t" style="left:154.00px;top:1240.07px;font-size:20px;color:#9a9a9a;font-weight:normal;font-family:'Liberation Sans', sans-serif;">T: 0.00s</div>
<div class="t" style="left:154.00px;top:1266.07px;font-size:20px;color:#9a9a9a;font-weight:normal;font-family:'Liberation Sans', sans-serif;">I: 0</div>
<div class="t" style="left:154.00px;top:1292.07px;font-size:20px;color:#9a9a9a;font-weight:normal;font-family:'Liberation Sans', sans-serif;">N: 7 [7]</div>
<div class="t" style="left:154.00px;top:1318.07px;font-size:20px;color:#9a9a9a;font-weight:normal;font-family:'Liberation Sans', sans-serif;">V: 15</div>
<div class="t" style="left:154.00px;top:1344.07px;font-size:20px;color:#9a9a9a;font-weight:normal;font-family:'Liberation Sans', sans-serif;">FPS:59.52</div>
<div class="a" style="left:0;top:0;width:2640px;height:78px;background:#353535"></div>
<div class="a" style="left:124px;top:78px;width:2516px;height:10px;background:linear-gradient(rgba(0,0,0,.14),rgba(0,0,0,0))"></div>
<div class="t" style="left:13.00px;top:21.98px;font-size:30.5px;color:#ffffff;font-weight:bold;font-family:'Liberation Sans', sans-serif;">ComfyUI</div>
<div class="t" style="left:178.00px;top:26.21px;font-size:25.5px;color:#f4f4f4;font-weight:normal;font-family:'Liberation Sans', sans-serif;">Workflow</div>
<div class="t" style="left:330.40px;top:26.21px;font-size:25.5px;color:#f4f4f4;font-weight:normal;font-family:'Liberation Sans', sans-serif;">Edit</div>
<div class="t" style="left:422.40px;top:26.21px;font-size:25.5px;color:#f4f4f4;font-weight:normal;font-family:'Liberation Sans', sans-serif;">Help</div>
<div class="a" style="left:500px;top:0;width:308px;height:78px;border-left:1.8px solid #555;border-right:1.8px solid #555"></div>
<div class="a" style="left:500.5px;top:74.6px;width:307px;height:1.2px;background:#1c2c44"></div>
<div class="a" style="left:500.5px;top:75.8px;width:307px;height:2.2px;background:#84b4ee"></div>
<div class="t" style="left:517.30px;top:19.43px;font-size:28.2px;color:#ffffff;font-weight:normal;font-family:'Liberation Sans', sans-serif;">Image Generation</div>
<div class="a" style="left:767px;top:29px;width:14.4px;height:14.4px;border-radius:50%;background:#fff"></div>
<svg class="a" style="left:832px;top:22px" width="32" height="32"><path d="M16,1 V31 M1,16 H31" stroke="#9c9c9c" stroke-width="2.2"/></svg>
<div class="a" style="left:1407px;top:11px;width:498px;height:54.5px;border-radius:9px;background:#222"></div>
<div class="a" style="left:1407px;top:11px;width:194px;height:54.5px;border-radius:9px 0 0 9px;background:#236a99"></div>
<svg class="a" style="left:0;top:0;overflow:visible" width="1" height="1"><path fill="#fff" d="M1429.2,29 Q1429.2,26.95 1431.2,26.95 H1439.2 A3.8,3.8 0 1 1 1445.2,26.95 H1453.1 Q1455.1,26.95 1455.1,29 V36.2 A3.9,3.9 0 1 1 1455.1,43.2 V50.85 Q1455.1,52.85 1453.1,52.85 H1445.7 V49.9 A3.75,3.75 0 0 0 1438.2,49.9 V52.85 H1431.2 Q1429.2,52.85 1429.2,50.85 V43.5 H1431.6 A3.75,3.75 0 0 0 1431.6,36 H1429.2 Z"/></svg>
<div class="t" style="left:1475.50px;top:24.58px;font-size:26.6px;color:#ffffff;font-weight:normal;font-family:'Liberation Sans', sans-serif;">Manager</div>
<svg class="a" style="left:0;top:0;overflow:visible" width="1" height="1"><path fill="#fff" d="M1639.00,24.20 L1642.64,33.78 L1652.89,34.29 L1644.90,40.72 L1647.58,50.61 L1639.00,45.00 L1630.42,50.61 L1633.10,40.72 L1625.11,34.29 L1635.36,33.78 Z" stroke="#fff" stroke-width="1.4" stroke-linejoin="round"/></svg>
<svg class="a" style="left:0;top:0;overflow:visible" width="1" height="1" fill="none" stroke="#fff" stroke-width="2.45"><circle cx="1703.12" cy="48.15" r="3.1" stroke-width="3.1"/><path d="M1701.10,43.81 V34.22 H1710.69 Q1715.74,34.73 1715.74,40.28 V51.38 H1709.68"/><path d="M1706.65,34.22 V27.66 Q1706.65,22.11 1711.40,22.11 Q1714.73,22.11 1716.44,26.65 L1725.83,50.88"/><path d="M1721.29,51.38 H1731.89"/></svg>
<svg class="a" style="left:0;top:0;overflow:visible" width="1" height="1" fill="none" stroke="#fff" stroke-width="2.45"><circle cx="1779.32" cy="48.15" r="3.1" stroke-width="3.1"/><path d="M1776.29,43.31 V33.21 H1787.90 Q1792.95,33.72 1792.95,40.28 V52.39 H1785.88 V50.37 Q1785.88,43.31 1781.34,43.31 Z" fill="#fff" stroke="none"/><path d="M1782.85,34.22 V27.66 Q1782.85,22.11 1787.60,22.11 Q1790.93,22.11 1792.64,26.65 L1802.03,50.88"/><path d="M1797.49,51.38 H1808.09"/></svg>
<svg class="a" style="left:0;top:0" width="1900" height="80"><path fill="#fff" d="M1853.5,49 C1856,40 1862,35.3 1870.7,34.6 V27.2 L1880.8,37.4 L1870.2,47.8 V41.9 C1862,41.6 1857,44.2 1853.5,49 Z"/></svg>
<div class="a" style="left:1926.10px;top:27.90px;width:3.2px;height:3.2px;background:#c8c8c8"></div>
<div class="a" style="left:1936.90px;top:27.90px;width:3.2px;height:3.2px;background:#c8c8c8"></div>
<div class="a" style="left:1926.10px;top:37.90px;width:3.2px;height:3.2px;background:#c8c8c8"></div>
<div class="a" style="left:1936.90px;top:37.90px;width:3.2px;height:3.2px;background:#c8c8c8"></div>
<div class="a" style="left:1926.10px;top:47.80px;width:3.2px;height:3.2px;background:#c8c8c8"></div>
<div class="a" style="left:1936.90px;top:47.80px;width:3.2px;height:3.2px;background:#c8c8c8"></div>
<div class="a" style="left:1955px;top:1.5px;width:262px;height:76px;border-radius:9px;background:#62a2f9"></div>
<svg class="a" style="left:0;top:0;overflow:visible" width="1" height="1"><defs><linearGradient id="qg" x1="0" y1="0" x2="0" y2="1"><stop offset="0" stop-color="#1f6fe9"/><stop offset="0.88" stop-color="#2474ea"/><stop offset="0.97" stop-color="#1a2940"/></linearGradient></defs><rect x="1956.6" y="3.1" width="258.8" height="72.8" rx="8" fill="none" stroke="url(#qg)" stroke-width="3.2" stroke-dasharray="7.7 4.2"/></svg>
<svg class="a" style="left:0;top:0;overflow:visible" width="1" height="1"><path d="M1986.4,25.4 L2005.4,37.7 L1986.4,50.1 Z" fill="none" stroke="#0c1a2e" stroke-width="3" stroke-linejoin="round"/><path d="M2159.5,31.5 L2172.5,44 L2185.5,31.5" fill="none" stroke="#0c1a2e" stroke-width="3.2" stroke-linecap="round" stroke-linejoin="round"/></svg>
<div class="t" style="left:2028.00px;top:23.01px;font-size:28.1px;color:#0f1b2d;font-weight:normal;font-family:'Liberation Sans', sans-serif;">Queue</div>
<div class="a" style="left:2214px;top:3px;width:109px;height:71px;border-radius:0 11px 11px 0;background:#0b0b0c;border:2px solid #474747;border-left:none"></div>
<svg class="a" style="left:0;top:0;overflow:visible" width="1" height="1"><path fill="#fff" d="M2246.6,25.2 H2250.6 V48.9 H2246.6 V30.4 L2240.7,33.6 V30 Q2244,28.2 2246.6,25.2 Z"/></svg>
<svg class="a" style="left:0;top:0;overflow:visible" width="1" height="1" fill="none" stroke-linecap="round" stroke-linejoin="round" stroke-width="2.6"><path d="M2288.8,25.6 L2297.7,16.3 L2307,25.6" stroke="#c4c4c4" stroke-width="3"/><path d="M2288.8,50.5 L2297.7,59.8 L2307,50.5" stroke="#7a7a7a" stroke-width="3"/><path d="M2353,25.5 L2377,50 M2377,25.5 L2353,50" stroke="#8e8e8e" stroke-width="3"/><rect x="2429" y="23" width="30.5" height="30.5" rx="4.5" stroke="#8e8e8e" stroke-width="3"/><rect x="2510.5" y="24.5" width="28" height="27" rx="3" stroke="#8e8e8e" stroke-width="2.6"/><path d="M2510.5,44.8 H2538.5" stroke="#8e8e8e" stroke-width="2.6"/><path d="M2589,28 H2620 M2589,37.6 H2620 M2589,47.6 H2620" stroke="#9c9c9c" stroke-width="3"/></svg>
<svg class="a" style="left:0;top:0;overflow:visible" width="1" height="1"><defs><linearGradient id="ag" x1="0" y1="0" x2="0" y2="1"><stop offset="0" stop-color="#3b7ee6"/><stop offset="1" stop-color="#d6e4fb"/></linearGradient></defs><path d="M2085,109.5 V132.5 M2073.2,121.2 L2085,109.2 L2096.8,121.2" fill="none" stroke="url(#ag)" stroke-width="3.2" stroke-linecap="round" stroke-linejoin="round" gradientUnits="userSpaceOnUse"/></svg>
<div class="a" style="left:2053.00px;top:147.80px;width:64px;height:64px;border-radius:50%;background:rgba(0,0,0,.45)"></div>
<div class="a" style="left:2055.00px;top:149.80px;width:60px;height:60px;border-radius:50%;background:linear-gradient(180deg,#8cb8f7 0%,#4a8ef0 45%,#1f63d8 100%)"></div>
<div class="t" style="left:1335.00px;width:1500px;text-align:center;top:152.09px;font-size:54px;color:#ffffff;font-weight:bold;font-family:'Liberation Sans', sans-serif;transform:scaleX(0.9);">2</div>
<div class="a" style="left:2540.4px;top:1002.3px;width:83.2px;height:369.6px;border-radius:10px;background:#262628;border:1.5px solid #454547"></div>
<svg class="a" style="left:0;top:0;overflow:visible" width="1" height="1" fill="none" stroke="#dcdcdc" stroke-width="2.6" stroke-linecap="round" stroke-linejoin="round"><path d="M2582.8,1024.5 V1054.5 M2567.8,1039.6 H2597.8"/><path d="M2567.5,1112.6 H2598"/><path d="M2568,1186 V1183 Q2568,1170.5 2575,1170.5 H2579 M2586.6,1170.5 H2590.6 Q2597.6,1170.5 2597.6,1177.5 V1181 M2597.6,1190 V1194 Q2597.6,1201 2590.6,1201 H2586.6 M2579,1201 H2575 Q2568,1201 2568,1194 V1190"/><path d="M2564.5,1256.5 L2601,1242 L2585.4,1278.6 L2582,1262 Z"/><path d="M2567.4,1334 Q2582.8,1313 2597.2,1334 Q2582.8,1355 2567.4,1334 Z"/><circle cx="2582.8" cy="1334" r="5"/></svg>
</body></html>
